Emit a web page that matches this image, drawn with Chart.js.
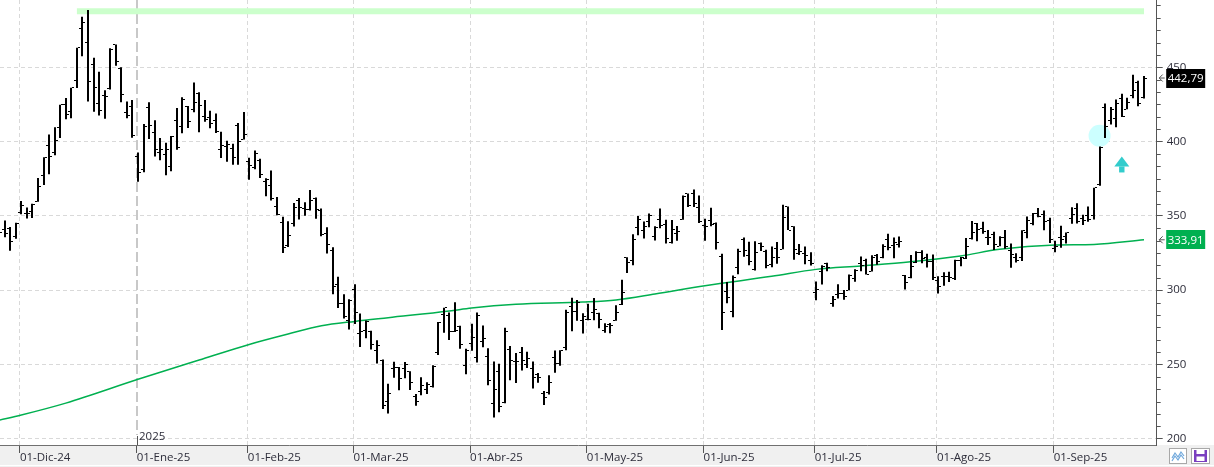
<!DOCTYPE html>
<html>
<head>
<meta charset="utf-8">
<script src="https://cdn.jsdelivr.net/npm/chart.js@4.4.1/dist/chart.umd.min.js"></script>
<style>
  html, body { margin: 0; padding: 0; background: #fff; overflow: hidden; }
  #wrap { width: 1214px; height: 467px; position: relative; }
</style>
</head>
<body>
<div id="wrap"><canvas id="chart"></canvas></div>
<script>
// daily bars, one per trading day, 25-Nov-24 .. 24-Sep-25
const opens = [
  360.14, 341.00, 341.80, 336.08,
  // Dic
  352.38, 351.80, 353.00, 359.87, 377.42, 397.61, 392.68, 409.70, 424.84, 420.00, 441.09, 475.90, 466.50, 451.88, 425.51, 431.00, 435.90, 465.16, 449.52, 419.40, 423.79,
  // Ene
  390.10, 381.48, 423.20, 405.83, 392.95, 391.40, 383.21, 414.34, 409.90, 423.49, 421.50, 432.64, 416.81, 416.06, 414.45, 394.80, 396.91, 395.21, 410.78, 401.53,
  // Feb
  386.68, 382.63, 387.51, 373.03, 370.19, 356.21, 345.80, 329.94, 345.00, 360.62, 355.01, 354.00, 361.51, 353.44, 338.14, 327.02, 303.71, 291.16, 279.50,
  // Mar
  300.34, 270.93, 272.92, 272.06, 259.32, 252.54, 225.31, 247.22, 248.13, 247.31, 245.06, 228.16, 231.61, 233.35, 234.99, 258.08, 283.60, 282.66, 272.48, 275.58, 249.31,
  // Abr
  263.80, 254.60, 265.29, 255.38, 223.78, 245.00, 224.69, 260.00, 251.84, 258.36, 249.91, 247.61, 243.47, 230.26, 230.96, 254.86, 250.50, 261.69, 288.98, 285.50, 279.90,
  // May
  280.01, 284.90, 284.57, 273.11, 276.88, 279.63, 290.21, 321.99, 320.00, 342.50, 340.34, 346.24, 336.30, 347.87, 344.43, 331.90, 337.92, 347.35, 364.84, 365.29, 355.52,
  // Jun
  343.50, 346.60, 345.10, 322.49, 298.83, 285.96, 314.94, 334.40, 323.08, 313.97, 331.29, 326.09, 317.31, 327.95, 327.54, 356.17, 342.70, 324.61, 324.51, 319.90,
  // Jul
  298.46, 312.63, 317.99, 291.37, 297.00, 297.55, 300.05, 307.89, 317.73, 319.68, 312.80, 323.15, 321.66, 334.40, 329.74, 330.90, 310.00, 308.74, 318.45, 325.55, 322.18, 319.61,
  // Ago
  306.21, 309.08, 308.95, 307.89, 319.79, 321.43, 335.00, 345.00, 341.50, 335.76, 337.66, 329.62, 335.79, 327.00, 322.08, 321.66, 338.90, 344.93, 351.94, 350.91, 347.23,
  // Sep
  328.23, 335.20, 336.15, 348.00, 354.64, 348.44, 350.55, 350.17, 370.94, 423.13, 414.50, 415.75, 428.87, 421.82, 431.11, 439.88, 429.83
];
const highs = [
  361.93, 346.96, 342.55, 345.45,
  360.00, 355.69, 358.10, 375.43, 389.49, 404.80, 409.73, 424.88, 429.30, 436.30, 463.19, 483.99, 488.54, 456.36, 447.08, 434.51, 462.78, 465.33, 450.00, 427.00, 427.93,
  392.73, 411.88, 426.43, 414.33, 402.50, 399.28, 403.79, 422.64, 429.80, 424.00, 439.74, 433.20, 428.00, 420.73, 418.88, 406.69, 400.59, 398.59, 412.50, 419.99,
  389.17, 394.00, 388.39, 375.40, 380.55, 362.70, 349.37, 346.40, 358.69, 362.00, 359.10, 367.34, 362.30, 354.98, 342.40, 328.89, 309.00, 297.23, 293.88,
  303.94, 284.35, 279.55, 272.65, 266.25, 253.37, 237.06, 251.84, 248.29, 251.58, 245.40, 230.10, 241.41, 238.00, 249.52, 278.64, 288.20, 284.90, 291.85, 276.10, 260.56,
  277.45, 284.99, 276.30, 261.00, 252.00, 250.44, 274.69, 262.49, 257.74, 261.80, 258.59, 251.97, 244.34, 232.21, 242.79, 259.45, 259.54, 286.85, 294.86, 293.32, 284.45,
  290.87, 294.78, 284.85, 277.73, 277.92, 289.80, 307.04, 322.21, 337.59, 350.00, 346.14, 351.62, 343.00, 354.99, 347.35, 347.27, 343.18, 363.79, 365.00, 367.71, 363.68,
  348.02, 355.40, 345.60, 324.55, 305.50, 309.83, 327.83, 335.50, 332.56, 332.99, 332.05, 327.26, 329.32, 332.36, 357.54, 356.26, 343.00, 331.05, 329.34, 325.58,
  305.89, 316.83, 318.45, 296.15, 304.05, 300.15, 310.48, 314.09, 322.60, 321.20, 323.50, 324.34, 330.90, 338.00, 335.41, 336.20, 310.15, 323.63, 326.25, 326.85, 324.45, 324.07,
  309.31, 312.12, 312.45, 320.47, 322.40, 335.15, 346.64, 345.26, 346.04, 340.47, 339.30, 336.27, 340.55, 331.37, 324.90, 340.25, 349.53, 351.90, 355.39, 353.55, 348.75,
  333.33, 343.33, 338.89, 355.87, 358.44, 350.77, 356.33, 368.99, 396.69, 425.70, 423.25, 428.31, 432.22, 429.47, 444.98, 440.97, 444.21
];
const lows = [
  338.20, 335.66, 326.59, 334.65,
  351.15, 348.20, 348.60, 359.50, 370.80, 378.01, 390.85, 402.38, 415.00, 415.71, 436.15, 457.51, 427.01, 420.02, 417.64, 415.41, 435.14, 451.02, 426.50, 415.75, 402.54,
  373.04, 379.45, 401.70, 390.00, 387.40, 377.29, 380.07, 394.54, 405.66, 409.13, 419.75, 406.31, 413.36, 408.95, 405.78, 389.00, 386.50, 384.48, 384.41, 401.34,
  374.36, 381.40, 375.53, 363.18, 360.34, 350.51, 325.10, 329.12, 342.85, 347.50, 350.02, 353.67, 348.00, 336.32, 324.70, 297.25, 288.04, 280.88, 273.60,
  277.30, 261.84, 267.71, 260.02, 250.73, 220.00, 217.02, 241.10, 232.60, 240.73, 232.80, 222.28, 229.20, 230.05, 234.55, 256.33, 271.28, 266.51, 271.82, 260.57, 243.36,
  259.25, 251.27, 261.51, 236.00, 214.25, 217.80, 223.88, 239.33, 237.50, 245.93, 247.54, 233.89, 237.68, 222.79, 229.85, 244.43, 249.20, 259.63, 272.42, 279.47, 270.78,
  279.81, 279.81, 274.40, 271.35, 271.00, 279.41, 290.00, 311.50, 316.80, 337.00, 334.72, 342.33, 333.37, 341.63, 331.39, 331.39, 333.21, 347.32, 355.91, 356.00, 345.29,
  333.33, 343.04, 327.33, 273.21, 291.14, 281.85, 310.67, 322.50, 316.86, 313.30, 326.41, 314.74, 315.45, 317.78, 327.48, 340.44, 320.40, 323.61, 317.50, 316.60,
  293.21, 303.82, 312.76, 288.77, 294.35, 293.55, 300.00, 305.65, 312.67, 310.50, 312.62, 317.06, 321.42, 326.88, 321.55, 328.67, 300.41, 308.01, 318.25, 318.18, 315.33, 306.86,
  297.82, 303.00, 305.50, 306.93, 316.16, 320.98, 334.15, 332.94, 338.00, 330.40, 327.02, 329.59, 327.85, 315.12, 318.68, 319.69, 335.03, 343.72, 349.16, 340.26, 331.70,
  325.60, 328.51, 331.48, 344.68, 344.84, 343.82, 346.07, 347.60, 370.24, 402.43, 411.43, 409.67, 416.56, 421.72, 429.13, 423.72, 429.03
];
const closes = [
  338.59, 338.23, 332.89, 345.16,
  357.09, 351.42, 357.93, 369.49, 389.22, 389.79, 400.99, 424.77, 418.10, 436.23, 463.02, 479.86, 440.13, 436.17, 421.06, 430.60, 462.28, 454.13, 431.66, 417.41, 403.84,
  379.28, 410.44, 411.05, 394.36, 394.94, 394.74, 403.31, 396.36, 428.22, 413.82, 426.50, 424.07, 415.11, 412.38, 406.58, 397.15, 398.09, 389.10, 400.28, 404.60,
  383.68, 392.21, 378.17, 374.32, 361.62, 350.73, 328.50, 336.51, 355.94, 355.84, 354.11, 360.56, 354.40, 337.80, 330.53, 302.80, 290.80, 281.95, 292.98,
  284.65, 272.04, 279.10, 263.45, 262.67, 222.15, 230.58, 248.09, 240.68, 249.98, 238.01, 225.31, 235.86, 236.26, 248.71, 278.39, 288.14, 272.06, 273.13, 263.55, 259.16,
  268.46, 282.76, 267.28, 239.43, 233.29, 221.86, 272.20, 252.40, 252.31, 252.35, 254.11, 241.55, 241.37, 227.50, 237.97, 250.74, 259.51, 284.95, 285.88, 292.03, 282.16,
  280.52, 287.21, 280.26, 275.35, 276.22, 284.82, 298.26, 318.38, 334.07, 347.68, 342.82, 349.98, 342.09, 343.82, 334.62, 341.04, 339.34, 362.89, 356.90, 358.43, 346.46,
  342.69, 344.27, 332.05, 284.70, 295.14, 308.58, 326.09, 326.43, 319.11, 325.31, 329.13, 316.35, 322.05, 322.16, 348.68, 340.47, 327.55, 325.78, 323.63, 317.66,
  300.71, 315.65, 315.35, 293.94, 297.81, 295.88, 309.87, 313.51, 316.90, 310.78, 321.67, 319.41, 329.65, 328.49, 332.11, 332.56, 305.30, 316.06, 325.59, 321.20, 319.04, 308.27,
  302.63, 309.26, 308.72, 319.91, 322.27, 329.65, 339.03, 340.84, 339.38, 335.58, 330.56, 335.16, 329.31, 323.90, 320.11, 340.01, 346.60, 351.67, 349.60, 345.98, 333.87,
  329.36, 334.09, 338.53, 350.84, 346.40, 346.97, 347.79, 368.81, 395.94, 410.04, 421.62, 425.86, 416.85, 426.07, 434.21, 425.85, 442.79
];

// first trading day of each month (bar index) and its label
const monthIdx = [4, 25, 45, 64, 85, 106, 127, 147, 169, 190];
const monthLabels = ['01-Dic-24', '01-Ene-25', '01-Feb-25', '01-Mar-25', '01-Abr-25', '01-May-25', '01-Jun-25', '01-Jul-25', '01-Ago-25', '01-Sep-25'];
const yearIdx = 25;
const yearLabel = '2025';
const yTicks = [200, 250, 300, 350, 400, 450];

// moving average
const maIdx = [0, 4, 12, 25, 36, 45, 52, 58, 64, 70, 81, 85, 93, 105, 111, 118, 127, 139, 147, 155, 164, 173, 180, 190, 197, 206];
const maVal = [212.5, 216, 224, 240, 253, 263.5, 270.5, 276, 279, 281.5, 286, 288, 290.5, 292, 293.4, 297.4, 303, 309.3, 314, 316.3, 319.1, 323, 327.5, 330.4, 330.8, 333.91];

const resistance = 487.8;
const resistanceFrom = 14, resistanceTo = 206;
const gapMark = { x: 198, y: 404 };
const arrowMark = { x: 202, y: 390 };

const FONT = "'Open Sans', 'Noto Sans', sans-serif";
const TXT = '#2d2d3a';

const bars = highs.map((h, i) => ({ x: i, y: [lows[i], h] }));
const maData = maIdx.map((x, i) => ({ x: x, y: maVal[i] }));

const ohlcTicks = {
    id: 'ohlcTicks',
    beforeDatasetsDraw(chart) {
        // keep the high-low strokes on whole pixels
        chart.getDatasetMeta(0).data.forEach(el => { el.x = Math.round(el.x); });
    },
    afterDatasetsDraw(chart) {
        const { ctx, chartArea: a } = chart;
        const ys = chart.scales.y;
        const els = chart.getDatasetMeta(0).data;
        ctx.save();
        ctx.beginPath();
        ctx.rect(a.left, a.top, a.right - a.left, a.bottom - a.top);
        ctx.clip();
        ctx.fillStyle = '#000';
        els.forEach((el, i) => {
            const x = el.x;
            ctx.fillRect(x - 3, Math.round(ys.getPixelForValue(opens[i]) - 0.5), 2, 1);
            ctx.fillRect(x + 1, Math.round(ys.getPixelForValue(closes[i]) - 0.5), 2, 1);
        });
        // arrow up
        const ax = chart.scales.x.getPixelForValue(arrowMark.x);
        const ay = ys.getPixelForValue(arrowMark.y);
        ctx.fillStyle = '#33cccc';
        ctx.beginPath();
        ctx.moveTo(ax, ay);
        ctx.lineTo(ax + 7.5, ay + 10);
        ctx.lineTo(ax - 7.5, ay + 10);
        ctx.closePath();
        ctx.fill();
        ctx.fillRect(ax - 2.7, ay + 10, 5.4, 6);
        ctx.restore();
    }
};

const decor = {
    id: 'decor',
    beforeDraw(chart) {
        const { ctx, width, height, chartArea: a } = chart;
        ctx.save();
        ctx.fillStyle = '#f0f0f0';
        ctx.fillRect(0, a.bottom, width, height - a.bottom);
        ctx.fillStyle = '#ffffff';
        ctx.fillRect(0, height - 2, width, 1);
        ctx.restore();
    },
    beforeDatasetsDraw(chart) {
        const { ctx, chartArea: a } = chart;
        const x = Math.round(chart.scales.x.getPixelForValue(yearIdx - 0.25));
        ctx.save();
        ctx.strokeStyle = '#c8c8c8';
        ctx.lineWidth = 2;
        ctx.setLineDash([10, 4]);
        ctx.beginPath();
        ctx.moveTo(x, a.top);
        ctx.lineTo(x, a.bottom - 10);
        ctx.stroke();
        ctx.restore();
    },
    afterDraw(chart) {
        const { ctx, chartArea: a } = chart;
        const ys = chart.scales.y;
        const xs = chart.scales.x;
        ctx.save();
        // year marker
        const x = Math.round(xs.getPixelForValue(yearIdx - 0.25));
        ctx.strokeStyle = '#555';
        ctx.lineWidth = 1;
        ctx.beginPath();
        ctx.moveTo(x + 0.5, a.bottom - 9);
        ctx.lineTo(x + 0.5, a.bottom);
        ctx.stroke();
        ctx.font = '11.5px ' + FONT;
        ctx.fillStyle = TXT;
        ctx.textBaseline = 'middle';
        ctx.textAlign = 'left';
        ctx.fillText(yearLabel, x + 2, a.bottom - 8);

        // minor ticks on the price axis
        ctx.strokeStyle = '#555';
        for (let k = 0; k < 40; k++) {
            const v = 200 + k * 50 / 6 - 50 / 6;
            if (v < ys.min || v > ys.max || k % 6 === 1) continue;
            const y = Math.round(ys.getPixelForValue(v)) + 0.5;
            ctx.beginPath();
            ctx.moveTo(a.right, y);
            ctx.lineTo(a.right + 4, y);
            ctx.stroke();
        }

        // last-value tags
        const tag = (val, bg) => {
            const y = ys.getPixelForValue(val);
            ctx.strokeStyle = '#555';
            ctx.beginPath();
            ctx.moveTo(a.right + 6, y - 3.5);
            ctx.lineTo(a.right + 2.5, y);
            ctx.lineTo(a.right + 6, y + 3.5);
            ctx.moveTo(a.right + 2.5, y);
            ctx.lineTo(a.right + 8, y);
            ctx.stroke();
            ctx.fillStyle = bg;
            ctx.fillRect(a.right + 9.5, Math.round(y - 9.5), 39, 19);
            ctx.fillStyle = '#fff';
            ctx.font = '11.5px ' + FONT;
            ctx.textAlign = 'left';
            ctx.textBaseline = 'middle';
            ctx.fillText(val.toFixed(2).replace('.', ','), a.right + 11, y + 0.5);
        };
        tag(closes[closes.length - 1], '#000000');
        tag(maVal[maVal.length - 1], '#00b050');

        // two small buttons bottom right
        ctx.fillStyle = '#ffffff';
        ctx.strokeStyle = '#a8a8a8';
        ctx.fillRect(1169.5, 448.5, 17, 15);
        ctx.strokeRect(1169.5, 448.5, 17, 15);
        ctx.fillRect(1191.5, 448.5, 18, 15);
        ctx.strokeRect(1191.5, 448.5, 18, 15);
        ctx.strokeStyle = '#6fa8dc';
        ctx.lineWidth = 1.2;
        ctx.beginPath();
        ctx.moveTo(1172, 458); ctx.lineTo(1175, 453); ctx.lineTo(1178, 457); ctx.lineTo(1181, 452); ctx.lineTo(1184, 456);
        ctx.moveTo(1172, 461); ctx.lineTo(1175, 456); ctx.lineTo(1178, 460); ctx.lineTo(1181, 455); ctx.lineTo(1184, 459);
        ctx.stroke();
        ctx.fillStyle = '#7a3fbf';
        ctx.fillRect(1194, 450, 13, 12);
        ctx.fillStyle = '#ffffff';
        ctx.fillRect(1196.5, 450, 8, 4);
        ctx.fillRect(1196.5, 456.5, 8, 4.5);
        ctx.restore();
    }
};

new Chart(document.getElementById('chart'), {
    type: 'bar',
    data: {
        datasets: [
            {
                type: 'bar',
                data: bars,
                backgroundColor: '#000000',
                borderWidth: 0,
                barThickness: 2,
                inflateAmount: 0,
                order: 0
            },
            {
                type: 'line',
                data: maData,
                borderColor: '#00b050',
                borderWidth: 1.5,
                pointRadius: 0,
                cubicInterpolationMode: 'monotone',
                order: 1
            },
            {
                type: 'line',
                data: [{ x: resistanceFrom, y: resistance }, { x: resistanceTo, y: resistance }],
                borderColor: '#ccffcc',
                borderWidth: 6,
                borderCapStyle: 'butt',
                pointRadius: 0,
                order: 2
            },
            {
                type: 'scatter',
                data: [gapMark],
                backgroundColor: '#ccffff',
                borderWidth: 0,
                pointRadius: 11,
                order: 3
            }
        ]
    },
    options: {
        responsive: true,
        maintainAspectRatio: false,
        animation: false,
        events: [],
        layout: { padding: 0, autoPadding: false },
        plugins: { legend: { display: false }, tooltip: { enabled: false } },
        scales: {
            x: {
                type: 'linear',
                min: 0.165,
                max: 208.28,
                offset: false,
                afterBuildTicks: s => { s.ticks = monthIdx.map(v => ({ value: v - 0.25 })); },
                afterFit: s => { s.height = 22; s.paddingLeft = 0; s.paddingRight = 0; },
                ticks: {
                    autoSkip: false,
                    maxRotation: 0,
                    minRotation: 0,
                    align: 'start',
                    padding: -2,
                    color: TXT,
                    font: { family: FONT, size: 11.5 },
                    callback: (v, i) => monthLabels[i]
                },
                grid: {
                    offset: false,
                    color: c => (c.index === 1 ? 'rgba(0,0,0,0)' : '#d9d9d9'),
                    tickColor: '#555',
                    tickLength: 8,
                    lineWidth: 1
                },
                border: { display: true, color: '#707070', dash: [4, 3] }
            },
            y: {
                position: 'right',
                min: 195.8,
                max: 495.3,
                afterBuildTicks: s => { s.ticks = yTicks.map(v => ({ value: v })); },
                afterFit: s => { s.width = 57.3; s.paddingTop = 0; s.paddingBottom = 0; },
                ticks: {
                    padding: 4,
                    color: TXT,
                    font: { family: FONT, size: 11.5 }
                },
                grid: {
                    color: '#d9d9d9',
                    tickColor: '#555',
                    tickLength: 6,
                    lineWidth: 1
                },
                border: { display: true, color: '#555', dash: [4, 3] }
            }
        }
    },
    plugins: [ohlcTicks, decor]
});
</script>
</body>
</html>
